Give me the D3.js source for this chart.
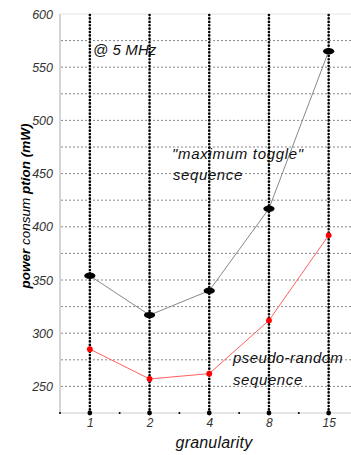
<!DOCTYPE html>
<html><head><meta charset="utf-8">
<script src="https://cdn.jsdelivr.net/npm/d3@7"></script>
<style>body{margin:0;background:#fff}svg{display:block}text{font-family:"Liberation Sans",Arial,sans-serif}</style>
</head><body><div id="c"></div>
<script>
const categories = ["1","2","4","8","15"];
const maxToggle = [354, 317, 340, 417, 565];
const pseudoRandom = [285, 257, 262, 312, 392];
const yTicks = [250, 300, 350, 400, 450, 500, 550, 600];
const yGrid = [250,275,300,325,350,375,400,425,450,475,500,525,550,575];

const W = 351, H = 455;
const svg = d3.select("#c").append("svg").attr("width", W).attr("height", H);
const x = d3.scalePoint().domain(categories).range([60, 358.5]).padding(0.5);
const y = d3.scaleLinear().domain([225, 600]).range([413, 14]);
const step = x.step();

// frame
svg.append("line").attr("x1",60).attr("x2",W).attr("y1",y(600)).attr("y2",y(600)).attr("stroke","#e4e4e4");
svg.append("line").attr("x1",60).attr("x2",60).attr("y1",y(600)).attr("y2",y(225)).attr("stroke","#aaa");
svg.append("line").attr("x1",60).attr("x2",W).attr("y1",y(225)).attr("y2",y(225)).attr("stroke","#ccc");

// horizontal grid
svg.append("g").selectAll("line").data(yGrid).join("line")
  .attr("x1",61).attr("x2",W).attr("y1",d=>y(d)).attr("y2",d=>y(d))
  .attr("stroke","#888").attr("stroke-width",1).attr("stroke-dasharray","2 2");

// y tick labels
const yAxis = d3.axisLeft(y).tickValues(yTicks).tickSize(0).tickPadding(4);
const gy = svg.append("g").attr("transform","translate(57,0)").call(yAxis);
gy.select(".domain").remove();
gy.selectAll("text").attr("font-size",12.5).attr("font-style","italic").attr("fill","#333")
  .attr("font-family","Liberation Sans, Arial, sans-serif");

// vertical dotted lines
svg.append("g").selectAll("line").data(categories).join("line")
  .attr("x1",d=>x(d)).attr("x2",d=>x(d)).attr("y1",y(600)+1).attr("y2",y(225))
  .attr("stroke","#000").attr("stroke-width",2.6).attr("stroke-linecap","round")
  .attr("stroke-dasharray","0.1 3.3");
svg.append("g").selectAll("circle").data(categories).join("circle")
  .attr("cx",d=>x(d)).attr("cy",y(225)).attr("r",2.4).attr("fill","#000");
// minor tick dots on x axis
svg.append("g").selectAll("circle").data(categories.concat(["_"])).join("circle")
  .attr("cx",(d,i)=>x(categories[0]) - step/2 + i*step).attr("cy",y(225)).attr("r",1).attr("fill","#000");

// x tick labels
const xAxis = d3.axisBottom(x).tickSize(0).tickPadding(5.5);
const gx = svg.append("g").attr("transform",`translate(0,${y(225)})`).call(xAxis);
gx.select(".domain").remove();
gx.selectAll("text").attr("font-size",12).attr("font-style","italic").attr("fill","#333")
  .attr("font-family","Liberation Sans, Arial, sans-serif");

// lines
const line = d3.line().x((d,i)=>x(categories[i])).y(d=>y(d));
svg.append("path").datum(maxToggle).attr("d",line).attr("fill","none").attr("stroke","#888").attr("stroke-width",1);
svg.append("path").datum(pseudoRandom).attr("d",line).attr("fill","none").attr("stroke","#ff6060").attr("stroke-width",1);

svg.append("g").selectAll("ellipse").data(maxToggle).join("ellipse")
  .attr("cx",(d,i)=>x(categories[i])).attr("cy",d=>y(d)).attr("rx",5.6).attr("ry",3.2).attr("fill","#000");
svg.append("g").selectAll("circle").data(pseudoRandom).join("circle")
  .attr("cx",(d,i)=>x(categories[i])).attr("cy",d=>y(d)).attr("r",2.9).attr("fill","#ff0000");

// annotations
const ann = (t,xx,yy,fs,ls)=>svg.append("text").attr("x",xx).attr("y",yy).attr("font-size",fs)
  .attr("letter-spacing",ls).attr("font-style","italic").attr("fill","#111").text(t);
ann("@ 5 MHz", 93, 55, 15, 0.1);
ann("\"maximum toggle\"", 172, 159, 15, 0.7);
ann("sequence", 173, 180, 15, 0.6);
ann("pseudo-random", 233, 363, 15, 0.4);
ann("sequence", 233, 385, 15, 0.6);

// axis titles
svg.append("text").attr("x",214).attr("y",448).attr("text-anchor","middle").attr("font-size",16)
  .attr("letter-spacing",0.2).attr("font-style","italic").attr("fill","#111").text("granularity");
const yt = svg.append("text").attr("transform","translate(30,206) rotate(-90)").attr("text-anchor","middle")
  .attr("font-size",13.5).attr("font-style","italic").attr("fill","#000");
yt.append("tspan").attr("font-weight","bold").text("power ");
yt.append("tspan").text("consum");
yt.append("tspan").attr("font-weight","bold").text(" ption (mW)");
</script></body></html>
